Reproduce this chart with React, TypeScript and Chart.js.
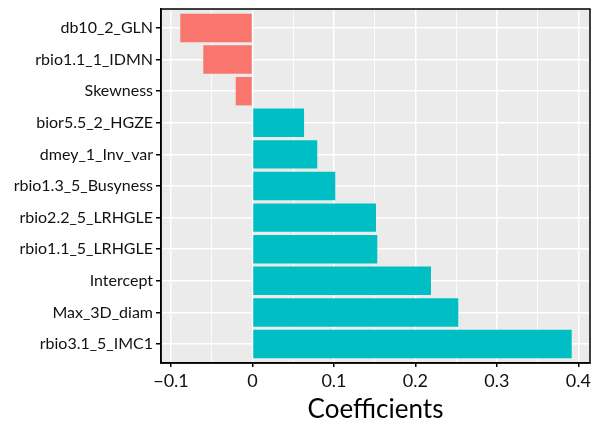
import React, { useEffect, useRef } from "react";
import { Chart, registerables } from "chart.js";

Chart.register(...registerables);

const CATEGORIES = [
  "db10_2_GLN",
  "rbio1.1_1_IDMN",
  "Skewness",
  "bior5.5_2_HGZE",
  "dmey_1_Inv_var",
  "rbio1.3_5_Busyness",
  "rbio2.2_5_LRHGLE",
  "rbio1.1_5_LRHGLE",
  "Intercept",
  "Max_3D_diam",
  "rbio3.1_5_IMC1",
];
const COEFFICIENTS = [
  -0.0886, -0.0604, -0.0206, 0.0633, 0.0795, 0.1016, 0.1516, 0.1532, 0.2191,
  0.2526, 0.3918,
];
const X_TICKS = [-0.1, -0.05, 0, 0.05, 0.1, 0.15, 0.2, 0.25, 0.3, 0.35, 0.4];
const X_MIN = -0.1123;
const X_MAX = 0.4143;
const X_TITLE = "Coefficients";

const NEG_COLOR = "#F8766D";
const POS_COLOR = "#00BFC4";
const FONT = "Lato, 'Open Sans', sans-serif";

const isMajor = (v: number) => Math.round(v * 20) % 2 === 0;
const fmt = (v: number) => {
  if (Math.abs(v) < 1e-9) return "0";
  const s = Math.abs(v).toFixed(1);
  return v < 0 ? "\u2212" + s : s;
};

const panelPlugin = {
  id: "panel",
  beforeDraw(chart: any) {
    const { ctx, chartArea: a } = chart;
    ctx.save();
    ctx.fillStyle = "#EBEBEB";
    ctx.fillRect(a.left, a.top, a.right - a.left, a.bottom - a.top);
    ctx.restore();
  },
  afterDraw(chart: any) {
    const { ctx, chartArea: a } = chart;
    ctx.save();
    ctx.strokeStyle = "#000";
    ctx.lineWidth = 1.5;
    ctx.strokeRect(a.left, a.top, a.right - a.left, a.bottom - a.top);
    ctx.restore();
  },
};

export default function App() {
  const ref = useRef<HTMLCanvasElement>(null);
  useEffect(() => {
    document.body.style.margin = "0";
    const data = COEFFICIENTS.map((v, i) => ({ x: v, y: i }));
    const chart = new Chart(ref.current!, {
      type: "bar",
      data: {
        datasets: [
          {
            data: data as any,
            backgroundColor: COEFFICIENTS.map((v) => (v < 0 ? NEG_COLOR : POS_COLOR)),
            borderWidth: 0,
            barPercentage: 0.9,
            categoryPercentage: 1,
          },
        ],
      },
      options: {
        indexAxis: "y",
        animation: false,
        responsive: true,
        maintainAspectRatio: false,
        layout: { padding: { top: 9, right: 4, left: 0, bottom: 0 } },
        plugins: { legend: { display: false }, tooltip: { enabled: false } },
        scales: {
          y: {
            type: "linear",
            reverse: true,
            offset: false,
            min: -0.6,
            max: CATEGORIES.length - 1 + 0.6,
            afterBuildTicks: (s: any) => {
              s.ticks = CATEGORIES.map((_, i) => ({ value: i }));
            },
            afterFit: (s: any) => {
              s.width = 161;
              s.paddingTop = 0;
              s.paddingBottom = 0;
            },
            ticks: {
              autoSkip: false,
              padding: 3,
              color: "#111",
              font: { family: FONT, size: 16 },
              callback: (v: any) => CATEGORIES[v as number],
            },
            grid: {
              offset: false,
              color: "#FFFFFF",
              lineWidth: 1.5,
              tickColor: "#000",
              tickLength: 5,
            },
            border: { color: "#000", width: 1.5 },
          },
          x: {
            type: "linear",
            min: X_MIN,
            max: X_MAX,
            afterBuildTicks: (s: any) => {
              s.ticks = X_TICKS.map((v) => ({ value: v }));
            },
            afterFit: (s: any) => {
              s.height = 61;
              s.paddingLeft = 0;
              s.paddingRight = 0;
            },
            ticks: {
              autoSkip: false,
              maxRotation: 0,
              padding: 3,
              color: "#111",
              font: { family: FONT, size: 18 },
              callback: (v: any) => (isMajor(v as number) ? fmt(v as number) : ""),
            },
            grid: {
              color: "#FFFFFF",
              lineWidth: (c: any) => (isMajor(c.tick.value) ? 1.5 : 0.8),
              tickColor: (c: any) => (isMajor(c.tick.value) ? "#000" : "rgba(0,0,0,0)"),
              tickLength: 4,
            },
            border: { color: "#000", width: 1.5 },
            title: {
              display: true,
              text: X_TITLE,
              color: "#000",
              font: { family: FONT, size: 26 },
              padding: { top: 0, bottom: -1 },
            },
          },
        },
      },
      plugins: [panelPlugin],
    });
    return () => chart.destroy();
  }, []);
  return (
    <div style={{ position: "relative", width: 594, height: 424 }}>
      <canvas ref={ref} />
    </div>
  );
}
